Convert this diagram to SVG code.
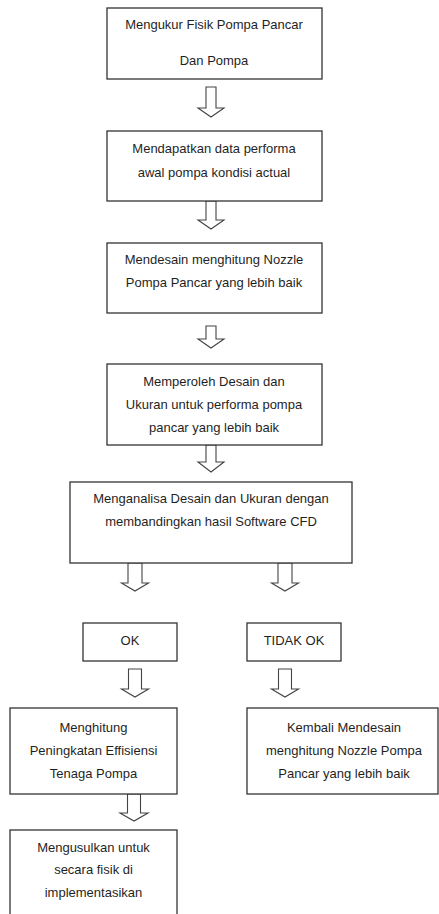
<svg xmlns="http://www.w3.org/2000/svg" width="439" height="914" viewBox="0 0 439 914" xml:space="preserve">
<style>
.box{fill:#fff;stroke:#333;stroke-width:1.3}
.arr{fill:#fff;stroke:#444;stroke-width:1.1;stroke-linejoin:miter}
text{font-family:"Liberation Sans",Arial,sans-serif;font-size:13px;fill:#1f1f1f;text-anchor:middle}
</style>
<rect width="439" height="914" fill="#fff"/>
<g id="connectors">
<path class="arr" d="M206,87 H216 V108 H224 L211,117 L198,108 H206 Z"/>
<path class="arr" d="M206,201 H216 V220 H224 L211,229 L198,220 H206 Z"/>
<path class="arr" d="M206,326 H216 V339 H224 L211,348 L198,339 H206 Z"/>
<path class="arr" d="M206,445 H216 V462 H224 L211,472 L198,462 H206 Z"/>
<path class="arr" d="M128,563 H142 V583 H148.5 L135,591 L121.5,583 H128 Z"/>
<path class="arr" d="M278,563 H292 V583 H298.5 L285,591 L271.5,583 H278 Z"/>
<path class="arr" d="M128.5,669 H141.5 V689 H148.5 L135,697 L121.5,689 H128.5 Z"/>
<path class="arr" d="M278.5,669 H291.5 V689 H298.5 L285,697 L271.5,689 H278.5 Z"/>
<path class="arr" d="M127.5,794 H140.5 V813 H148 L134,821 L120,813 H127.5 Z"/>
</g>
<g id="n1"><rect class="box" x="107" y="8" width="215" height="71"/><text x="214" y="29">Mengukur  Fisik Pompa  Pancar</text><text x="214" y="65">Dan Pompa</text></g>
<g id="n2"><rect class="box" x="107" y="131" width="215" height="70"/><text x="214" y="153">Mendapatkan  data performa</text><text x="214" y="177">awal pompa kondisi actual</text></g>
<g id="n3"><rect class="box" x="107" y="243" width="215" height="70"/><text x="214" y="264">Mendesain menghitung  Nozzle</text><text x="214" y="287">Pompa  Pancar yang lebih  baik</text></g>
<g id="n4"><rect class="box" x="107" y="364" width="215" height="81"/><text x="214" y="386">Memperoleh  Desain dan</text><text x="214" y="409">Ukuran untuk performa pompa</text><text x="214" y="432">pancar yang lebih baik</text></g>
<g id="n5"><rect class="box" x="70" y="482" width="282" height="81"/><text x="211" y="503">Menganalisa Desain dan Ukuran dengan</text><text x="211" y="526">membandingkan  hasil Software  CFD</text></g>
<g id="n6"><rect class="box" x="83" y="623" width="94" height="38"/><text x="130" y="645">OK</text></g>
<g id="n7"><rect class="box" x="247" y="623" width="94" height="38"/><text x="294" y="645">TIDAK OK</text></g>
<g id="n8"><rect class="box" x="10" y="708" width="167" height="86"/><text x="93.5" y="732">Menghitung</text><text x="93.5" y="755">Peningkatan  Effisiensi</text><text x="93.5" y="778">Tenaga Pompa</text></g>
<g id="n9"><rect class="box" x="247" y="708" width="191" height="86"/><text x="344" y="732">Kembali Mendesain</text><text x="344" y="755">menghitung  Nozzle Pompa</text><text x="344" y="778">Pancar yang lebih  baik</text></g>
<g id="n10"><rect class="box" x="10" y="830" width="167" height="95"/><text x="93.5" y="852">Mengusulkan  untuk</text><text x="93.5" y="874">secara fisik di</text><text x="93.5" y="897">implementasikan</text></g>
</svg>
